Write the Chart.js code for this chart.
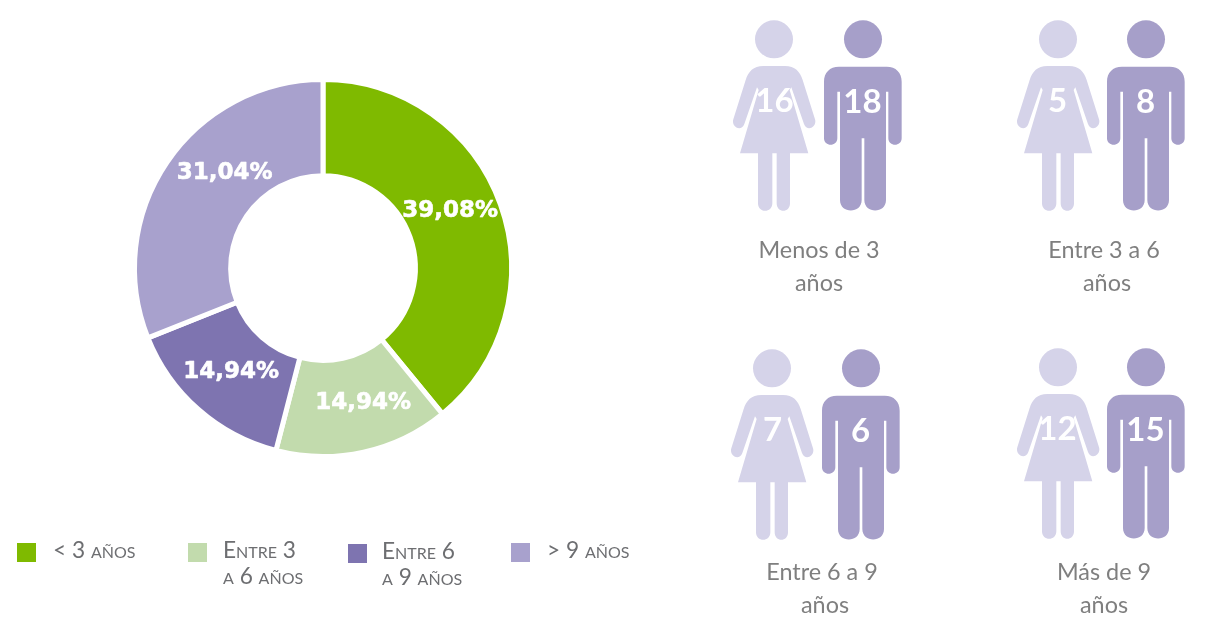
<!DOCTYPE html>
<html lang="es"><head><meta charset="utf-8">
<script src="https://cdn.jsdelivr.net/npm/chart.js@4"></script>
<style>
html,body{margin:0;padding:0;background:#fff;width:1208px;height:630px;overflow:hidden}
#wrap{position:relative;width:1208px;height:630px}
canvas{position:absolute;left:0;top:0}
svg{position:absolute;left:0;top:0}
.cap{position:absolute;width:200px;text-align:center;font:23.4px/33px Lato,sans-serif;color:#7f7f7f}
.cap span{position:relative}
.leg{position:absolute;font:22.7px/26px Lato,sans-serif;font-variant:small-caps;color:#6d6e71;white-space:pre}
.sw{position:absolute;width:19px;height:19px}
</style></head><body><div id="wrap">
<canvas id="c" width="1208" height="630"></canvas>
<svg id="figs" width="1208" height="630" xmlns="http://www.w3.org/2000/svg"></svg>
</div>
<script>
const categories = ['< 3 años', 'Entre 3\na 6 años', 'Entre 6\na 9 años', '> 9 años'];
const shares = [39.08, 14.94, 14.94, 31.04];
const shareColors = ['#7FBA00', '#C2DBAD', '#7E74B0', '#A8A1CD'];
const groupLabels = ['Menos de 3\naños', 'Entre 3 a 6\naños', 'Entre 6 a 9\naños', 'Más de 9\naños'];
const women = [16, 5, 7, 12];
const men = [18, 8, 6, 15];

const labelShift = [[-5,-10],[10,-2],[1,-1],[18,-16]];
const labelsPlugin = {id:'labels',afterDatasetsDraw(ch){
  const ctx=ch.ctx; ctx.save();
  ctx.font='bold 23px "DejaVu Sans"';ctx.fillStyle='#fff';ctx.strokeStyle='#fff';ctx.lineWidth=0.6;ctx.lineJoin='round';
  ctx.textAlign='center';ctx.textBaseline='middle';
  ch.getDatasetMeta(0).data.forEach((arc,i)=>{
    const p=arc.getCenterPoint();
    const s=shares[i].toFixed(2).replace('.',',')+'%';
    ctx.fillText(s,p.x+labelShift[i][0],p.y+labelShift[i][1]);
    ctx.strokeText(s,p.x+labelShift[i][0],p.y+labelShift[i][1]);
  });
  ctx.restore();
}};
new Chart(document.getElementById('c'),{
  type:'doughnut',
  data:{labels:categories,datasets:[{data:shares,backgroundColor:shareColors,borderColor:'#fff',borderWidth:5}]},
  options:{responsive:false,animation:false,cutout:'49%',
    layout:{padding:{left:132,right:694,top:77,bottom:171}},
    plugins:{legend:{display:false},tooltip:{enabled:false}}},
  plugins:[labelsPlugin]
});

/* pictograms, in a local 3x grid */
const womanPath='M130,168 L195,168 C225,168 240,185 248,210 L285,328 C292,350 262,368 252,342 L214,232 L209,240 L265,430 L210,430 L210,580 C210,610 170,610 170,580 L170,430 L157,430 L157,580 C157,610 114,610 114,580 L114,430 L60,430 L116,240 L111,232 L73,342 C63,368 33,350 40,328 L77,210 C85,185 100,168 130,168 Z';
const manPath='M357,170 L500,170 C528,170 545,188 545,215 L545,385 C545,411 505,411 505,385 L505,245 L498,245 L498,570 C498,612 433,612 433,570 L433,385 L425,385 L425,570 C425,612 360,612 360,570 L360,245 L352,245 L352,385 C352,411 312,411 312,385 L312,215 C312,188 329,170 357,170 Z';
const groupPos=[[0,0],[283,0],[-2,329],[283,328]];
const womanNudge=[0,3,0,3];
const captionX=[819,1104,822,1104];
const captionY=[233,233,555,555];
const secondLineNudge=[0,3,3,0];
const svg=document.getElementById('figs');
let html='';
const wrap=document.getElementById('wrap');
groupPos.forEach((g,i)=>{
  const tx=720+g[0], ty=10+g[1];
  html+=`<g transform="translate(${tx} ${ty}) scale(${1/3})">
    <g transform="translate(${womanNudge[i]} 0)"><circle cx="162" cy="88" r="57" fill="#D5D3E9"/><path d="${womanPath}" fill="#D5D3E9"/></g>
    <circle cx="429" cy="88" r="57" fill="#A69FC9"/><path d="${manPath}" fill="#A69FC9"/></g>`;
  html+=`<text x="${tx+54.5}" y="${ty+102}" text-anchor="middle" font-family="Lato" font-weight="700" font-size="33" fill="#fff">${women[i]}</text>`;
  html+=`<text x="${tx+142.5}" y="${ty+103}" text-anchor="middle" font-family="Lato" font-weight="700" font-size="33" fill="#fff">${men[i]}</text>`;
  const cap=document.createElement('div');cap.className='cap';
  cap.style.left=(captionX[i]-100)+'px';cap.style.top=captionY[i]+'px';
  const parts=groupLabels[i].split('\n');
  cap.innerHTML=parts[0]+`<br><span style="left:${secondLineNudge[i]}px">${parts[1]}</span>`;
  wrap.appendChild(cap);
});
svg.innerHTML=html;

const legendPos=[[17,543,53,537],[188,543,223,537],[348,544,382,538],[511,543,547,537]];
categories.forEach((t,i)=>{
  const p=legendPos[i];
  const s=document.createElement('div');s.className='sw';s.style.left=p[0]+'px';s.style.top=p[1]+'px';s.style.background=shareColors[i];wrap.appendChild(s);
  const l=document.createElement('div');l.className='leg';l.style.left=p[2]+'px';l.style.top=p[3]+'px';l.textContent=t;wrap.appendChild(l);
});
</script></body></html>
